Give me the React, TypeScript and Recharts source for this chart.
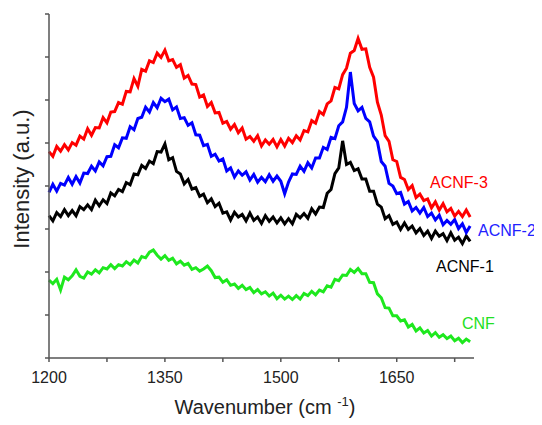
import { LineChart, Line, XAxis, YAxis } from 'recharts';

// Raman shift (cm-1), sampled every 5 cm-1
const wavenumbers = [
    1200, 1205, 1210, 1215, 1220, 1225, 1230, 1235, 1240, 1245, 1250, 1255, 1260, 1265, 1270, 1275, 1280, 1285, 1290, 1295,
    1300, 1305, 1310, 1315, 1320, 1325, 1330, 1335, 1340, 1345, 1350, 1355, 1360, 1365, 1370, 1375, 1380, 1385, 1390, 1395,
    1400, 1405, 1410, 1415, 1420, 1425, 1430, 1435, 1440, 1445, 1450, 1455, 1460, 1465, 1470, 1475, 1480, 1485, 1490, 1495,
    1500, 1505, 1510, 1515, 1520, 1525, 1530, 1535, 1540, 1545, 1550, 1555, 1560, 1565, 1570, 1575, 1580, 1585, 1590, 1595,
    1600, 1605, 1610, 1615, 1620, 1625, 1630, 1635, 1640, 1645, 1650, 1655, 1660, 1665, 1670, 1675, 1680, 1685, 1690, 1695,
    1700, 1705, 1710, 1715, 1720, 1725, 1730, 1735, 1740, 1745,
];

const acnf3 = [
    4.80, 4.69, 4.92, 4.81, 4.96, 4.84, 5.01, 4.95, 5.16, 5.09, 5.33, 5.18, 5.36, 5.35, 5.59, 5.47, 5.72, 5.73, 5.94, 5.90,
    6.20, 6.19, 6.50, 6.32, 6.71, 6.67, 6.91, 6.87, 7.09, 6.99, 7.16, 6.91, 6.94, 6.76, 6.82, 6.51, 6.57, 6.37, 6.36, 6.07,
    6.12, 5.85, 5.94, 5.70, 5.71, 5.46, 5.50, 5.32, 5.43, 5.24, 5.35, 5.09, 5.15, 5.04, 5.17, 4.93, 5.07, 4.97, 5.08, 4.91,
    5.08, 4.93, 5.11, 5.01, 5.17, 5.07, 5.29, 5.26, 5.52, 5.46, 5.73, 5.66, 5.91, 5.98, 6.29, 6.26, 6.59, 6.74, 7.09, 7.15,
    7.43, 7.18, 7.19, 6.76, 6.53, 5.95, 5.65, 5.17, 5.04, 4.61, 4.57, 4.20, 4.15, 3.92, 4.01, 3.73, 3.81, 3.66, 3.70, 3.49,
    3.63, 3.44, 3.59, 3.40, 3.48, 3.30, 3.41, 3.29, 3.44, 3.28,
];

const acnf2 = [
    3.85, 4.04, 3.88, 4.06, 4.02, 4.20, 4.04, 4.22, 4.07, 4.30, 4.29, 4.46, 4.35, 4.56, 4.47, 4.68, 4.69, 4.96, 4.89, 5.12,
    5.11, 5.38, 5.31, 5.57, 5.60, 5.83, 5.72, 5.94, 5.82, 6.04, 5.96, 6.02, 5.77, 5.84, 5.57, 5.59, 5.41, 5.47, 5.19, 5.18,
    4.94, 4.97, 4.69, 4.74, 4.58, 4.63, 4.35, 4.42, 4.21, 4.35, 4.25, 4.33, 4.14, 4.27, 4.09, 4.20, 4.10, 4.26, 4.11, 4.23,
    4.11, 3.82, 4.09, 4.28, 4.27, 4.46, 4.34, 4.54, 4.42, 4.65, 4.65, 4.90, 4.85, 5.13, 5.10, 5.40, 5.49, 5.83, 6.65, 5.92,
    5.75, 5.83, 5.57, 5.49, 5.16, 5.03, 4.57, 4.46, 4.06, 4.00, 3.82, 3.85, 3.58, 3.64, 3.42, 3.50, 3.37, 3.50, 3.29, 3.37,
    3.21, 3.32, 3.10, 3.20, 3.11, 3.22, 3.01, 3.12, 2.92, 3.07,
];

const acnf1 = [
    3.31, 3.19, 3.38, 3.29, 3.45, 3.31, 3.43, 3.31, 3.52, 3.45, 3.56, 3.45, 3.67, 3.54, 3.68, 3.59, 3.84, 3.77, 3.92, 3.87,
    4.08, 4.03, 4.28, 4.26, 4.48, 4.41, 4.58, 4.52, 4.80, 4.79, 4.98, 4.61, 4.66, 4.34, 4.28, 4.05, 4.15, 3.93, 3.96, 3.76,
    3.81, 3.61, 3.70, 3.52, 3.60, 3.37, 3.40, 3.21, 3.39, 3.28, 3.34, 3.19, 3.37, 3.20, 3.28, 3.13, 3.31, 3.18, 3.28, 3.14,
    3.26, 3.12, 3.24, 3.12, 3.34, 3.26, 3.36, 3.25, 3.47, 3.35, 3.51, 3.50, 3.83, 3.92, 4.29, 4.42, 5.05, 4.50, 4.55, 4.36,
    4.40, 4.16, 4.16, 3.88, 3.88, 3.58, 3.51, 3.24, 3.31, 3.11, 3.16, 2.99, 3.14, 2.99, 3.07, 2.91, 3.01, 2.85, 2.95, 2.78,
    2.95, 2.83, 2.89, 2.73, 2.91, 2.74, 2.81, 2.66, 2.84, 2.71,
];

const cnf = [
    1.81, 1.73, 1.83, 1.58, 1.88, 1.82, 1.91, 2.05, 1.90, 1.86, 2.00, 1.95, 2.05, 1.98, 2.10, 2.07, 2.17, 2.08, 2.17, 2.14,
    2.24, 2.17, 2.28, 2.21, 2.36, 2.33, 2.46, 2.51, 2.39, 2.30, 2.38, 2.27, 2.32, 2.19, 2.25, 2.16, 2.20, 2.06, 2.10, 2.02,
    2.07, 2.14, 2.03, 1.87, 1.88, 1.76, 1.82, 1.69, 1.72, 1.62, 1.69, 1.59, 1.64, 1.52, 1.59, 1.49, 1.54, 1.44, 1.51, 1.38,
    1.46, 1.37, 1.44, 1.36, 1.45, 1.37, 1.50, 1.45, 1.55, 1.47, 1.58, 1.54, 1.68, 1.65, 1.83, 1.80, 1.93, 1.92, 2.06, 1.99,
    2.08, 1.96, 1.96, 1.76, 1.75, 1.49, 1.40, 1.17, 1.16, 0.98, 0.98, 0.86, 0.89, 0.72, 0.78, 0.63, 0.70, 0.58, 0.64, 0.51,
    0.59, 0.48, 0.54, 0.45, 0.51, 0.40, 0.46, 0.36, 0.44, 0.38,
];

const xTicks = [1200, 1275, 1350, 1425, 1500, 1575, 1650, 1725];
const xLabels = [1200, 1350, 1500, 1650];
const yTicks = [0, 1, 2, 3, 4, 5, 6, 7, 8];

const data = wavenumbers.map((w, i) => ({
    w,
    acnf3: acnf3[i],
    acnf2: acnf2[i],
    acnf1: acnf1[i],
    cnf: cnf[i],
}));

const FONT = '"Liberation Sans", Arial, sans-serif';
const AXIS = '#555';

const seriesLabel = (text: string, color: string, left: number, top: number) => (
    <div style={{ position: 'absolute', left, top, color, fontSize: 16, fontFamily: FONT, lineHeight: 1 }}>
        {text}
    </div>
);

export default function App() {
    return (
        <div style={{ position: 'relative', width: 534, height: 417 }}>
            <LineChart
                width={534}
                height={417}
                data={data}
                margin={{ top: 6, right: 68, left: 0, bottom: 0 }}
            >
                <XAxis
                    dataKey="w"
                    type="number"
                    domain={[1200, 1750]}
                    ticks={xTicks}
                    tickFormatter={(v: number) => (xLabels.includes(v) ? String(v) : '')}
                    height={67}
                    tickSize={4}
                    tickMargin={10}
                    axisLine={{ stroke: AXIS, strokeWidth: 1.5 }}
                    tickLine={{ stroke: AXIS, strokeWidth: 1.5 }}
                    tick={{ fill: '#222', fontSize: 16, fontFamily: FONT }}
                />
                <YAxis
                    type="number"
                    domain={[0, 8]}
                    ticks={yTicks}
                    width={41}
                    tickSize={4}
                    tickFormatter={() => ''}
                    axisLine={{ stroke: AXIS, strokeWidth: 1.5 }}
                    tickLine={{ stroke: AXIS, strokeWidth: 1.5 }}
                />
                <Line dataKey="cnf" stroke="#1ee81e" strokeWidth={3} dot={false} isAnimationActive={false} />
                <Line dataKey="acnf1" stroke="#000000" strokeWidth={3} dot={false} isAnimationActive={false} />
                <Line dataKey="acnf2" stroke="#0000ff" strokeWidth={3} dot={false} isAnimationActive={false} />
                <Line dataKey="acnf3" stroke="#ff0000" strokeWidth={3} dot={false} isAnimationActive={false} />
            </LineChart>
            {seriesLabel('ACNF-3', '#ff0000', 422, 167)}
            {seriesLabel('ACNF-2', '#2222ff', 470, 215)}
            {seriesLabel('ACNF-1', '#000000', 428, 251)}
            {seriesLabel('CNF', '#22e022', 454, 308)}
            <div
                style={{
                    position: 'absolute',
                    left: 14,
                    top: 171,
                    transform: 'translate(-50%, -50%) rotate(-90deg)',
                    whiteSpace: 'nowrap',
                    fontSize: 22,
                    fontFamily: FONT,
                    color: '#222',
                }}
            >
                Intensity (a.u.)
            </div>
            <div
                style={{
                    position: 'absolute',
                    left: 257,
                    top: 386,
                    transform: 'translateX(-50%)',
                    whiteSpace: 'nowrap',
                    fontSize: 20,
                    fontFamily: FONT,
                    color: '#222',
                }}
            >
                Wavenumber (cm <sup style={{ fontSize: 13 }}>-1</sup>)
            </div>
        </div>
    );
}
